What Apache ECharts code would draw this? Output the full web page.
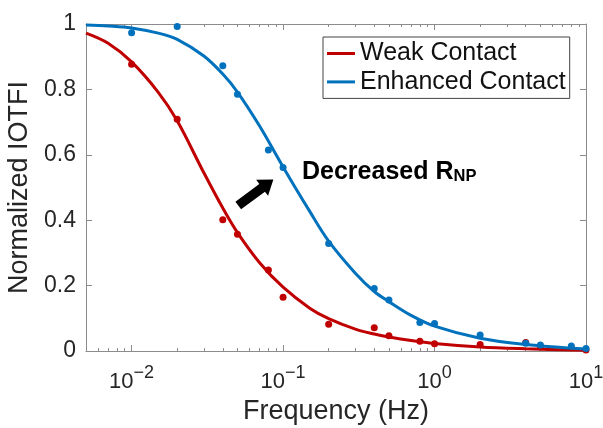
<!DOCTYPE html>
<html>
<head>
<meta charset="utf-8">
<script src="https://cdn.jsdelivr.net/npm/echarts@6/dist/echarts.min.js"></script>
<style>
  html, body { margin: 0; padding: 0; background: #fff; }
  #chart { width: 603px; height: 428px; }
</style>
</head>
<body>
<div id="chart"></div>
<script>
// Fitted response curves, sampled along frequency (Hz)
const curveFreq     = [0.005, 0.007, 0.01, 0.015, 0.02, 0.03, 0.04, 0.05, 0.07, 0.1, 0.15, 0.2, 0.3, 0.4, 0.5, 0.7, 1, 2, 4, 10];
const weakCurve     = [0.972, 0.941, 0.884, 0.791, 0.704, 0.545, 0.437, 0.362, 0.27, 0.195, 0.131, 0.099, 0.067, 0.052, 0.043, 0.032, 0.023, 0.0125, 0.007, 0.002];
const enhancedCurve = [0.997, 0.994, 0.988, 0.972, 0.953, 0.902, 0.847, 0.792, 0.688, 0.563, 0.427, 0.336, 0.238, 0.182, 0.151, 0.109, 0.076, 0.039, 0.020, 0.006];

// Measured points
const dotFreq      = [0.01, 0.02, 0.04, 0.05, 0.08, 0.1, 0.2, 0.4, 0.5, 0.8, 1, 2, 4, 5, 8, 10];
const weakDots     = [0.877, 0.709, 0.401, 0.357, 0.248, 0.164, 0.082, 0.071, 0.047, 0.030, 0.022, 0.020, 0.026, 0.013, 0.010, 0.003];
const enhancedDots = [0.973, 0.992, 0.872, 0.785, 0.615, 0.561, 0.329, 0.191, 0.156, 0.087, 0.084, 0.049, 0.024, 0.018, 0.015, 0.008];

// Axis ticks
const majorTicks = [0.01, 0.1, 1, 10];
const minorTicks = [0.006, 0.007, 0.008, 0.009,
                    0.02, 0.03, 0.04, 0.05, 0.06, 0.07, 0.08, 0.09,
                    0.2, 0.3, 0.4, 0.5, 0.6, 0.7, 0.8, 0.9,
                    2, 3, 4, 5, 6, 7, 8, 9];
const yTicks = [0, 0.2, 0.4, 0.6, 0.8, 1];

const seriesNames = ['Weak Contact', 'Enhanced Contact'];
const RED = '#C00000';
const BLUE = '#0072BD';
const FONT = '"Liberation Sans", Arial, sans-serif';
const AX = '#8c8c8c';
const TXT = '#262626';

const chart = echarts.init(document.getElementById('chart'), null, { renderer: 'canvas' });

const pairs = (xs, ys) => xs.map((x, i) => [x, ys[i]]);

function powerLabel(v) {
  const e = Math.round(Math.log10(v));
  return '{b|10}{s|' + (e < 0 ? '\u2212' : '') + Math.abs(e) + '}';
}

const xBase = { type: 'log', logBase: 10, min: 0.005, max: 10, gridIndex: 0, splitLine: { show: false } };
const yBase = { type: 'value', min: yTicks[0], max: yTicks[yTicks.length - 1], interval: 0.2, gridIndex: 0, splitLine: { show: false } };

const option = {
  backgroundColor: '#fff',
  animation: false,
  grid: { left: 86, right: 17, top: 24, bottom: 77, containLabel: false, outerBoundsMode: 'none' },
  legend: {
    data: seriesNames.map(n => ({ name: n, icon: 'rect' })),
    orient: 'vertical',
    left: 323, top: 37,
    itemWidth: 28, itemHeight: 3, itemGap: 1.4, itemTextGap: 4,
    padding: [3, 4, 3, 4],
    borderColor: '#444', borderWidth: 1, borderRadius: 0,
    backgroundColor: '#fff',
    textStyle: { fontFamily: FONT, fontSize: 25, color: '#111', lineHeight: 27 }
  },
  xAxis: [
    Object.assign({}, xBase, {
      position: 'bottom',
      axisLine: { show: true, lineStyle: { color: AX, width: 1 } },
      axisTick: { show: true, inside: true, length: 6, customValues: majorTicks, lineStyle: { color: AX } },
      axisLabel: {
        customValues: majorTicks, formatter: powerLabel, margin: 13,
        color: TXT, fontFamily: FONT,
        rich: {
          b: { fontSize: 22, fontFamily: FONT, color: TXT, lineHeight: 36 },
          s: { fontSize: 18, fontFamily: FONT, color: TXT, lineHeight: 16, verticalAlign: 'top' }
        }
      },
      name: 'Frequency (Hz)', nameLocation: 'middle', nameGap: 47,
      nameTextStyle: { fontFamily: FONT, fontSize: 27, color: TXT }
    }),
    Object.assign({}, xBase, {
      position: 'bottom',
      axisLine: { show: false },
      axisTick: { show: true, inside: true, length: 3, customValues: minorTicks, lineStyle: { color: AX } },
      axisLabel: { show: false }
    }),
    Object.assign({}, xBase, {
      position: 'top',
      axisLine: { show: true, lineStyle: { color: AX, width: 1 } },
      axisTick: { show: true, inside: true, length: 6, customValues: majorTicks, lineStyle: { color: AX } },
      axisLabel: { show: false }
    }),
    Object.assign({}, xBase, {
      position: 'top',
      axisLine: { show: false },
      axisTick: { show: true, inside: true, length: 3, customValues: minorTicks, lineStyle: { color: AX } },
      axisLabel: { show: false }
    })
  ],
  yAxis: [
    Object.assign({}, yBase, {
      position: 'left',
      axisLine: { show: true, lineStyle: { color: AX, width: 1 } },
      axisTick: { show: true, inside: true, length: 6, lineStyle: { color: AX } },
      axisLabel: {
        margin: 10, color: TXT, fontFamily: FONT, fontSize: 23,
        formatter: v => (v === 0 || v === 1) ? String(v) : v.toFixed(1)
      },
      name: 'Normalized IOTFI', nameLocation: 'middle', nameGap: 48,
      nameTextStyle: { fontFamily: FONT, fontSize: 27, color: TXT }
    }),
    Object.assign({}, yBase, {
      position: 'right',
      axisLine: { show: true, lineStyle: { color: AX, width: 1 } },
      axisTick: { show: true, inside: true, length: 6, lineStyle: { color: AX } },
      axisLabel: { show: false }
    })
  ],
  series: [
    {
      type: 'scatter', name: 'weak-points', xAxisIndex: 0, yAxisIndex: 0,
      data: pairs(dotFreq, weakDots), symbol: 'circle', symbolSize: 7,
      itemStyle: { color: RED, opacity: 1 }, z: 3, silent: true
    },
    {
      type: 'line', name: seriesNames[0], xAxisIndex: 0, yAxisIndex: 0,
      data: pairs(curveFreq, weakCurve), symbol: 'none', showSymbol: false, smooth: 0.35,
      lineStyle: { color: RED, width: 3 }, itemStyle: { color: RED }, z: 3
    },
    {
      type: 'scatter', name: 'enhanced-points', xAxisIndex: 0, yAxisIndex: 0,
      data: pairs(dotFreq, enhancedDots), symbol: 'circle', symbolSize: 7,
      itemStyle: { color: BLUE, opacity: 1 }, z: 4, silent: true
    },
    {
      type: 'line', name: seriesNames[1], xAxisIndex: 0, yAxisIndex: 0,
      data: pairs(curveFreq, enhancedCurve), symbol: 'none', showSymbol: false, smooth: 0.35,
      lineStyle: { color: BLUE, width: 3 }, itemStyle: { color: BLUE }, z: 4
    }
  ]
};

chart.setOption(option);

// Annotation: arrow pointing toward higher frequency, placed in data space
const arrowTail = [0.0506, 0.445];
const arrowTip  = [0.0863, 0.5245];
const finder = { xAxisIndex: 0, yAxisIndex: 0 };
const T = chart.convertToPixel(finder, arrowTail);
const P = chart.convertToPixel(finder, arrowTip);
const dx = P[0] - T[0], dy = P[1] - T[1];
const len = Math.hypot(dx, dy);
const ux = dx / len, uy = dy / len;
const nx = -uy, ny = ux;
const shaftHalf = 4.75, headHalf = 10, headLen = 14;
const H = [P[0] - ux * headLen, P[1] - uy * headLen];
const arrowPts = [
  [T[0] + nx * shaftHalf, T[1] + ny * shaftHalf],
  [H[0] + nx * shaftHalf, H[1] + ny * shaftHalf],
  [H[0] + nx * headHalf, H[1] + ny * headHalf],
  P,
  [H[0] - nx * headHalf, H[1] - ny * headHalf],
  [H[0] - nx * shaftHalf, H[1] - ny * shaftHalf],
  [T[0] - nx * shaftHalf, T[1] - ny * shaftHalf]
];

chart.setOption({
  graphic: [
    {
      type: 'polygon', z: 10, silent: true,
      shape: { points: arrowPts },
      style: { fill: '#000', stroke: null }
    },
    {
      type: 'text', z: 10, silent: true,
      x: 302, y: 155,
      style: {
        text: '{b|Decreased R}{s|NP}',
        align: 'left', verticalAlign: 'top',
        rich: {
          b: { fontSize: 25, fontWeight: 'bold', fontFamily: FONT, fill: '#000', lineHeight: 30, verticalAlign: 'bottom' },
          s: { fontSize: 16.5, fontWeight: 'bold', fontFamily: FONT, fill: '#000', lineHeight: 15, verticalAlign: 'bottom' }
        }
      }
    }
  ]
});
</script>
</body>
</html>
